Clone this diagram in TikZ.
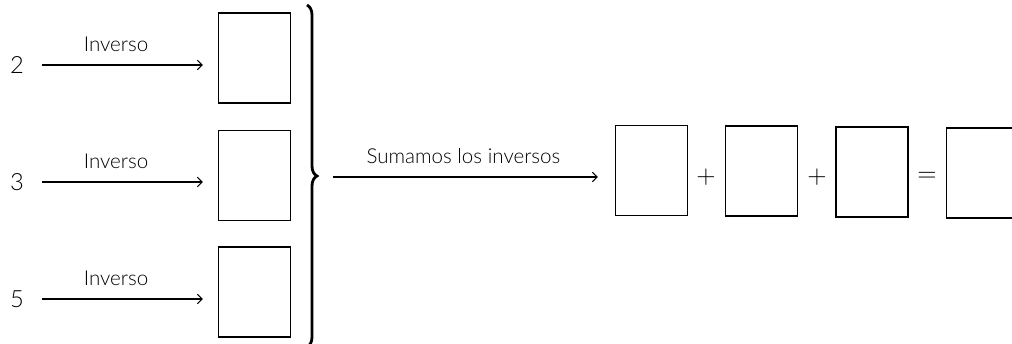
\documentclass[tikz,border=0pt]{standalone}
\usepackage{amsmath,amssymb}
\usepackage{fontspec}
\setmainfont{Lato Light}
\usepackage{tikz}
\usetikzlibrary{positioning,arrows.meta,decorations.pathreplacing}

\begin{document}
\begin{tikzpicture}[x=0.02cm,y=-0.02cm,>=Straight Barb,
    caja/.style={draw,line width=0.7pt,minimum width=1.44cm,minimum height=1.8cm,inner sep=0pt},
    numero/.style={inner sep=0pt,font=\fontsize{13.5}{15}\selectfont},
    signo/.style={font=\fontsize{14}{16}\selectfont},
    flecha/.style={->,line width=0.6pt},
    etiqueta/.style={font=\fontsize{11.7}{13}\selectfont}]
  \useasboundingbox (0,0) rectangle (1012,344);

  % numbers and their inverses
  \foreach \n/\yn/\yc in {2/65/58,3/182/175.5,5/299/292}{
    \node[numero] (num\n) at (17,\yn) {\n};
    \node[caja] (inv\n) at (254.5,\yc) {};
    \draw[flecha,shorten <=0.36cm,shorten >=0.3cm] (num\n.east) -- (num\n.east -| inv\n.west)
      node[midway,above=0.14cm,etiqueta,xshift=-0.1cm] {Inverso};
  }

  % brace
  \draw[line width=1.6pt,decorate,decoration={brace,amplitude=0.2cm}] (307,5) -- (307,347);
  \coordinate (llave) at (318,177);

  % sum of the inverses
  \node[caja] (s1) at (651.5,170.5) {};
  \node[caja] (s2) at (761.5,171) {};
  \node[caja] (s3) at (872,172) {};
  \node[caja] (total) at (982.5,173) {};
  \node[signo] (mas1) at (706,177) {$+$};
  \node[signo] (mas2) at (817,177) {$+$};
  \node[signo] (igual) at (927,177) {$=$};

  \draw[flecha,shorten <=0.3cm,shorten >=0.34cm] (llave) -- (llave -| s1.west)
    node[midway,above=0.14cm,etiqueta,xshift=-0.06cm] {Sumamos los inversos};

\end{tikzpicture}
\end{document}
